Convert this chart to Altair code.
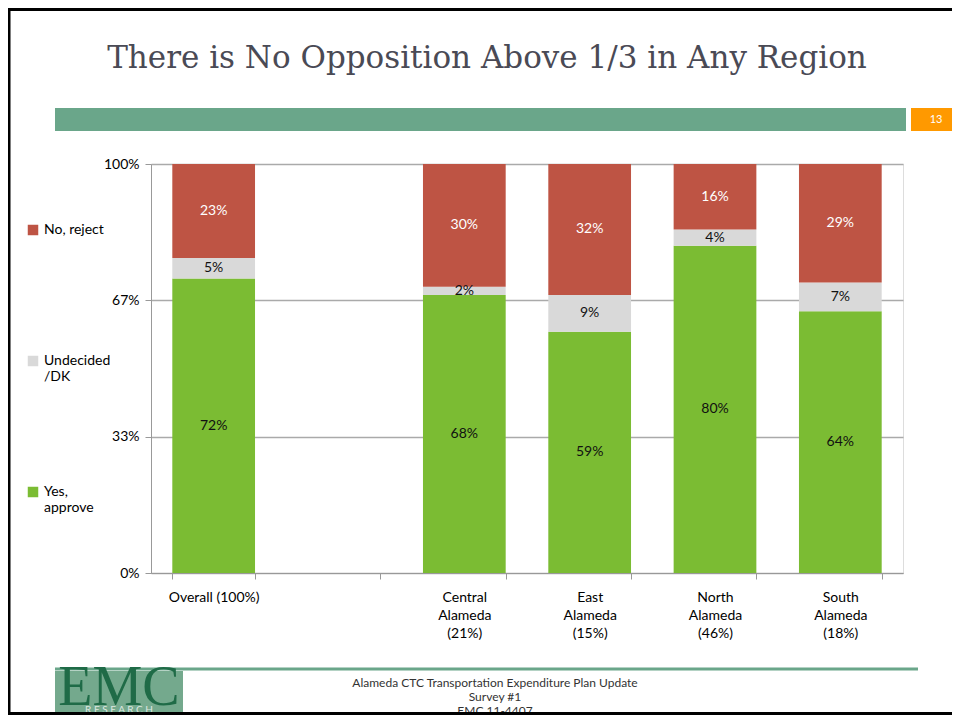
import altair as alt
import pandas as pd

# ---- data ----
categories = ["Overall (100%)", "Central Alameda (21%)", "East Alameda (15%)",
              "North Alameda (46%)", "South Alameda (18%)"]
axis_domain = ["Overall (100%)", " ", "Central Alameda (21%)", "East Alameda (15%)",
               "North Alameda (46%)", "South Alameda (18%)"]
axis_labels = ["Overall (100%)", "", "Central|Alameda|(21%)", "East|Alameda|(15%)",
               "North|Alameda|(46%)", "South|Alameda|(18%)"]
responses = ["No, reject", "Undecided/DK", "Yes, approve"]
yes_approve = [72, 68, 59, 80, 64]
undecided = [5, 2, 9, 4, 7]
no_reject = [23, 30, 32, 16, 29]
y_ticks = [0, 100 / 3, 200 / 3, 100]

title_text = "There is No Opposition Above 1/3 in Any Region"
page_number = "13"
footer_lines = ["Alameda CTC Transportation Expenditure Plan Update", "Survey #1", "EMC 11-4407"]

rows = []
for i, c in enumerate(categories):
    for r, v, o in [("Yes, approve", yes_approve[i], 1),
                    ("Undecided/DK", undecided[i], 2),
                    ("No, reject", no_reject[i], 3)]:
        rows.append({"category": c, "response": r, "value": v, "ord": o,
                     "label": f"{v}%"})
df = pd.DataFrame(rows)

RED, GRAY, GREEN = "#BE5444", "#D9D9D9", "#7BBC33"
BANNER = "#6AA68A"
FONT = "Lato"

label_map = "{" + ",".join(f"'{d}':'{l}'" for d, l in zip(axis_domain, axis_labels)) + "}"
x_scale = alt.Scale(domain=axis_domain, paddingInner=0.34, paddingOuter=0.17)

x_enc = alt.X("category:N", scale=x_scale,
              axis=alt.Axis(title=None, labelAngle=0, tickBand="extent",
                            labelExpr=f"isValid({label_map}[datum.value]) ? split({label_map}[datum.value], '|') : ''",
                            labelFont=FONT, labelFontSize=14, labelColor="#000000",
                            labelLineHeight=18, labelPadding=11, labelBaseline="top",
                            domainColor="#999999", tickColor="#999999", tickSize=6,
                            grid=False))

bars = alt.Chart(df).mark_bar(stroke=None).encode(
    x=x_enc,
    y=alt.Y("value:Q", stack="zero",
            scale=alt.Scale(domain=[0, 100], nice=False),
            axis=alt.Axis(title=None, values=y_ticks,
                          labelExpr="round(datum.value) + '%'",
                          labelFont=FONT, labelFontSize=14, labelColor="#000000",
                          labelPadding=6,
                          domainColor="#999999", tickColor="#999999", tickSize=6,
                          grid=True, gridColor="#AAAAAA", gridWidth=1.5)),
    color=alt.Color("response:N",
                    scale=alt.Scale(domain=responses, range=[RED, GRAY, GREEN]),
                    legend=alt.Legend(title=None, orient="none", legendX=-125, legendY=59,
                                      symbolType="square", symbolSize=110,
                                      symbolStrokeWidth=0,
                                      labelFont=FONT, labelFontSize=14, labelColor="#000000",
                                      labelLimit=200, rowPadding=101,
                                      labelExpr="datum.label == 'No, reject' ? ['No, reject', ' '] : datum.label == 'Undecided/DK' ? ['Undecided', '/DK'] : ['Yes,', 'approve']")),
    order=alt.Order("ord:Q", sort="ascending"),
)

texts = alt.Chart(df).transform_stack(
    stack="value", groupby=["category"], as_=["y0", "y1"],
    sort=[alt.SortField("ord", order="ascending")]
).transform_calculate(
    mid="(datum.y0 + datum.y1) / 2"
).mark_text(font=FONT, fontSize=14).encode(
    x=alt.X("category:N", scale=x_scale),
    y=alt.Y("mid:Q"),
    text="label:N",
    color=alt.condition("datum.response == 'No, reject'", alt.value("#FFFFFF"), alt.value("#111111")),
)

one = pd.DataFrame({"k": [0]})

# decorations (pixel offsets relative to plot origin at page (151,164))
title = alt.Chart(one).mark_text(font="DejaVu Serif", fontSize=31, color="#4A4A55",
                                 align="center", baseline="middle").encode(
    x=alt.value(336), y=alt.value(-105), text=alt.value(title_text))
banner = alt.Chart(one).mark_rect(color=BANNER).encode(
    x=alt.value(-96), x2=alt.value(755), y=alt.value(-56), y2=alt.value(-33))
orange = alt.Chart(one).mark_rect(color="#FF9900").encode(
    x=alt.value(760), x2=alt.value(815), y=alt.value(-56), y2=alt.value(-33))
pnum = alt.Chart(one).mark_text(font=FONT, fontSize=11, color="#FFFFFF").encode(
    x=alt.value(785), y=alt.value(-44), text=alt.value(page_number))
bottom_line = alt.Chart(one).mark_rule(color=BANNER, strokeWidth=3).encode(
    x=alt.value(-96), x2=alt.value(767), y=alt.value(505))
logo_bg = alt.Chart(one).mark_rect(color="#74A98D").encode(
    x=alt.value(-96), x2=alt.value(32), y=alt.value(507), y2=alt.value(548))
logo_txt = alt.Chart(one).mark_text(font="Liberation Serif", fontSize=56, color="#1F6B47",
                                    baseline="alphabetic").encode(
    x=alt.value(-32), y=alt.value(541), text=alt.value("EMC"))
logo_sub = alt.Chart(one).mark_text(font=FONT, fontSize=10, color="#DDE8E1",
                                    baseline="alphabetic").encode(
    x=alt.value(-32), y=alt.value(549), text=alt.value("R   E   S   E   A   R   C   H"))
footer1 = alt.Chart(one).mark_text(font=FONT, fontSize=12, color="#333333").encode(
    x=alt.value(344), y=alt.value(519), text=alt.value(footer_lines[0]))
footer2 = alt.Chart(one).mark_text(font=FONT, fontSize=12, color="#333333").encode(
    x=alt.value(344), y=alt.value(533), text=alt.value(footer_lines[1]))
footer3 = alt.Chart(one).mark_text(font=FONT, fontSize=12, color="#333333").encode(
    x=alt.value(344), y=alt.value(547), text=alt.value(footer_lines[2]))
border_left = alt.Chart(one).mark_rule(color="#000000", strokeWidth=3).encode(
    x=alt.value(-142), y=alt.value(-155), y2=alt.value(550))
border_top = alt.Chart(one).mark_rule(color="#000000", strokeWidth=3).encode(
    x=alt.value(-143), x2=alt.value(820), y=alt.value(-154.5))
border_bottom = alt.Chart(one).mark_rule(color="#000000", strokeWidth=3).encode(
    x=alt.value(-143), x2=alt.value(820), y=alt.value(549.5))

chart = alt.layer(
    banner, orange, pnum, title, bottom_line, logo_bg, logo_txt, logo_sub,
    footer1, footer2, footer3,
    bars, texts, border_left, border_top, border_bottom
).properties(
    width=752, height=409,
    autosize=alt.AutoSizeParams(type="none"),
    padding={"left": 143, "top": 156, "right": 49, "bottom": 142},
).configure_view(stroke=None).configure(background="#FFFFFF")

chart.save("out.html", embed_options={"renderer": "svg", "actions": False})
